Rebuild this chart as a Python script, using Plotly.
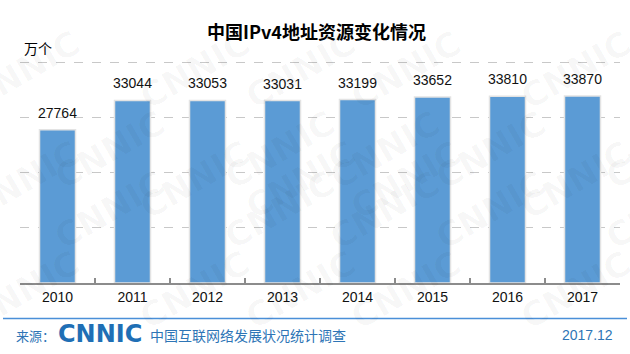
import plotly.graph_objects as go

years = ["2010", "2011", "2012", "2013", "2014", "2015", "2016", "2017"]
values = [27764, 33044, 33053, 33031, 33199, 33652, 33810, 33870]

title_text = "中国IPv4地址资源变化情况"
unit_text = "万个"
source_label = "来源："
logo_text = "CNNIC"
source_text = "中国互联网络发展状况统计调查"
date_text = "2017.12"

CJK = "Microsoft YaHei, Noto Sans CJK SC, sans-serif"
LAT = "Arial, Liberation Sans, sans-serif"
BLUE = "#5B9BD5"
DARK_BLUE = "#2E75B6"

fig = go.Figure()
fig.add_trace(go.Bar(
    x=years, y=values,
    marker=dict(color=BLUE, line=dict(color="#E3E3E3", width=1.5)),
    width=0.48,
    cliponaxis=False,
))

W, H = 630, 354
ml, mr, mt, mb = 20, 10, 51, 71
PW, PH = W - ml - mr, H - mt - mb

def px(x, y):
    return (x - ml) / PW, (H - mb - y) / PH

ann = []
# faint CNNIC watermark
for row in range(5):
    for col in range(5):
        x = -40 + col * 170 + (row % 2) * 85
        y = 20 + row * 80
        xx, yy = px(x, y)
        ann.append(dict(x=xx, y=yy, xref="paper", yref="paper",
                        text="<b>CNNIC</b>", showarrow=False, textangle=-30,
                        font=dict(family="DejaVu Sans", size=34, color="rgba(0,0,0,0.03)")))

# value labels above bars (category index positions)
for i, v in enumerate(values):
    ann.append(dict(x=i, y=v, xref="x", yref="y", text=str(v), showarrow=False,
                    yanchor="bottom", yshift=7,
                    font=dict(family=LAT, size=14, color="#111111")))

for txt, (x, y), fam, size, color, anchor in [
    (f"<b>{title_text}</b>", (316, 31), CJK, 18, "#000000", "center"),
    (unit_text, (22, 48), CJK, 14, "#000000", "left"),
    (source_label, (14, 335), CJK, 13, DARK_BLUE, "left"),
    (f"<b>{logo_text}</b>", (56, 334), "DejaVu Sans", 24, "#1F6FB5", "left"),
    (source_text, (148, 335), CJK, 14, DARK_BLUE, "left"),
    (date_text, (615, 335), LAT, 14, DARK_BLUE, "right"),
]:
    xx, yy = px(x, y)
    ann.append(dict(x=xx, y=yy, xref="paper", yref="paper", text=txt, showarrow=False,
                    xanchor=anchor, yanchor="middle",
                    font=dict(family=fam, size=size, color=color)))

x0, y0 = px(3, 318.5)
x1, _ = px(627, 318.5)

fig.update_layout(
    width=W, height=H,
    margin=dict(l=ml, r=mr, t=mt, b=mb, pad=0),
    plot_bgcolor="rgba(0,0,0,0)", paper_bgcolor="white",
    showlegend=False,
    annotations=ann,
    shapes=[dict(type="line", xref="paper", yref="paper",
                 x0=x0, x1=x1, y0=y0, y1=y0,
                 line=dict(color="#4A8FD8", width=1.3))],
    xaxis=dict(
        type="category",
        range=[-0.5, len(years) - 0.5],
        showline=True, linecolor="#8C8C8C", linewidth=1.5,
        ticks="inside", tickson="boundaries", ticklen=5, tickcolor="#8C8C8C", tickwidth=1.5,
        tickfont=dict(family=LAT, size=14, color="#111111"),
        showgrid=False,
    ),
    yaxis=dict(
        range=[0, 42000], dtick=10000, showticklabels=False,
        showgrid=True, gridcolor="#C8C8C8", griddash="dash", gridwidth=1,
        zeroline=False, showline=False,
    ),
    bargap=0.52,
)

fig.write_html("out.html")
